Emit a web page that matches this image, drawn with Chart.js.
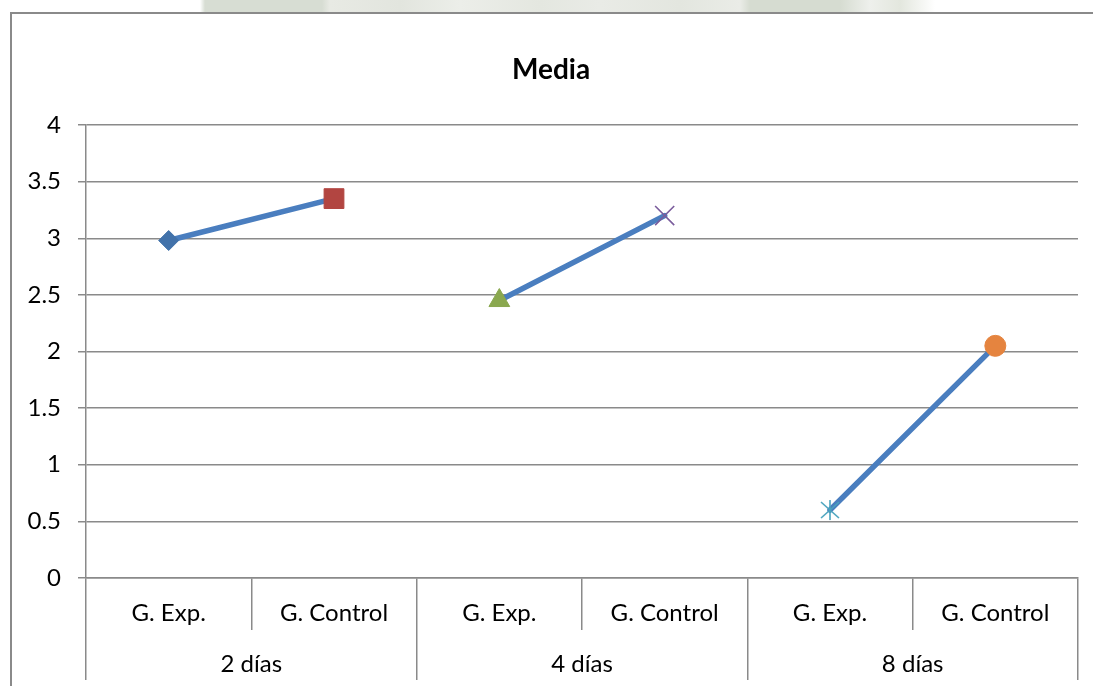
<!DOCTYPE html>
<html>
<head>
<meta charset="utf-8">
<script src="https://cdn.jsdelivr.net/npm/chart.js@4/dist/chart.umd.min.js"></script>
<style>
  html, body { margin: 0; padding: 0; background: #fff; overflow: hidden; }
  #wrap { position: relative; width: 1093px; height: 686px; }
  #strip {
    position: absolute; left: 0; top: 0; width: 1093px; height: 12px;
    background: linear-gradient(90deg,
      #ffffff 0px, #ffffff 200px, #d7ddd3 205px, #d7ddd3 322px,
      #e8eae4 330px, #e2e5de 400px, #eceee9 460px, #e4e7e0 540px,
      #e9ebe6 600px, #e3e6df 680px, #eaece7 740px, #d6dcd1 750px,
      #d6dcd1 840px, #eef0ec 870px, #e3e7de 900px, #ffffff 935px, #ffffff 1093px);
  }
  #frame {
    position: absolute; left: 10px; top: 12px; width: 1200px; height: 800px;
    border-left: 2px solid #8a8a8a; border-top: 2px solid #8a8a8a; box-sizing: border-box;
  }
  #c { position: absolute; left: 0; top: 0; }
</style>
</head>
<body>
<div id="wrap">
  <div id="strip"></div>
  <div id="frame"></div>
  <canvas id="c" width="1093" height="686"></canvas>
</div>
<script>
// Media por grupo (experimental / control) y tiempo
const groupLabels = ['2 días', '4 días', '8 días'];
const subLabels = ['G. Exp.', 'G. Control'];
const media2dias = [2.98, 3.35];
const media4dias = [2.45, 3.2];
const media8dias = [0.6, 2.05];
const yTickValues = [0, 0.5, 1, 1.5, 2, 2.5, 3, 3.5, 4];

const seriesByGroup = [media2dias, media4dias, media8dias];
const categories = groupLabels.flatMap(() => subLabels);

// asterisk marker: an X plus a vertical stroke
function asteriskMarker(color) {
  const c = document.createElement('canvas');
  c.width = 22; c.height = 22;
  const g = c.getContext('2d');
  g.strokeStyle = color; g.lineWidth = 1.6;
  g.beginPath();
  g.moveTo(2, 3); g.lineTo(20, 19);
  g.moveTo(20, 3); g.lineTo(2, 19);
  g.moveTo(11, 1); g.lineTo(11, 21);
  g.stroke();
  return c;
}

const markerStyle = ['rectRot', 'rect', 'triangle', 'crossRot', asteriskMarker('#4aa3bd'), 'circle'];
const markerColor = ['#4272aa', '#b24541', '#8aa84f', '#7a5c9c', '#4aa3bd', '#e5843f'];
const markerRadius = [10, 14, 12, 13.5, 11, 10.5];
const markerBorder = [1, 1, 1, 1.6, 1, 1];

const datasets = seriesByGroup.map((vals, g) => {
  const data = categories.map(() => null);
  vals.forEach((v, i) => { data[g * 2 + i] = v; });
  return {
    label: groupLabels[g],
    data,
    borderColor: '#4a7ebf',
    borderWidth: 5.5,
    borderCapStyle: 'round',
    tension: 0,
    spanGaps: false,
    fill: false,
    pointStyle: ctx => markerStyle[ctx.dataIndex],
    pointBackgroundColor: ctx => markerColor[ctx.dataIndex],
    pointBorderColor: ctx => markerColor[ctx.dataIndex],
    pointRadius: ctx => markerRadius[ctx.dataIndex],
    pointBorderWidth: ctx => markerBorder[ctx.dataIndex]
  };
});

const gridGray = '#8a8a8a';
const tickFont = { family: 'Lato', size: 24 };

function draw() {
  new Chart(document.getElementById('c'), {
    type: 'line',
    data: { labels: categories, datasets },
    options: {
      responsive: false,
      animation: false,
      events: [],
      layout: { padding: { left: 24, right: 15, top: 12, bottom: 6 } },
      plugins: {
        legend: { display: false },
        tooltip: { enabled: false },
        title: {
          display: true,
          text: 'Media',
          color: '#000',
          font: { family: 'Lato', size: 28, weight: 'bold' },
          padding: { top: 41, bottom: 38.4 }
        }
      },
      scales: {
        x: {
          type: 'category',
          labels: categories,
          position: 'bottom',
          offset: true,
          grid: { offset: true, drawOnChartArea: false, tickLength: 52, color: gridGray, lineWidth: 1.5 },
          border: { display: true, color: gridGray, width: 1.5 },
          ticks: { color: '#000', font: tickFont, padding: -31, maxRotation: 0, autoSkip: false },
          afterFit: s => { s.height = 52; }
        },
        x2: {
          type: 'category',
          labels: groupLabels,
          position: 'bottom',
          offset: true,
          grid: { offset: true, drawOnChartArea: false, tickLength: 50, color: gridGray, lineWidth: 1.5 },
          border: { display: false },
          ticks: { color: '#000', font: tickFont, padding: -30, maxRotation: 0, autoSkip: false },
          afterFit: s => { s.height = 50; }
        },
        y: {
          min: yTickValues[0],
          max: yTickValues[yTickValues.length - 1],
          afterBuildTicks: s => { s.ticks = yTickValues.map(v => ({ value: v })); },
          grid: { color: gridGray, lineWidth: 1.5, tickLength: 8 },
          border: { color: gridGray, width: 1.5 },
          ticks: { color: '#000', font: tickFont, padding: 17, callback: v => String(v) },
          afterFit: s => { s.width = 62; }
        }
      }
    }
  });
}

const ready = document.fonts && document.fonts.load
  ? Promise.all([document.fonts.load('24px Lato'), document.fonts.load('bold 28px Lato')]).catch(() => {})
  : Promise.resolve();
ready.then(draw, draw);
</script>
</body>
</html>
